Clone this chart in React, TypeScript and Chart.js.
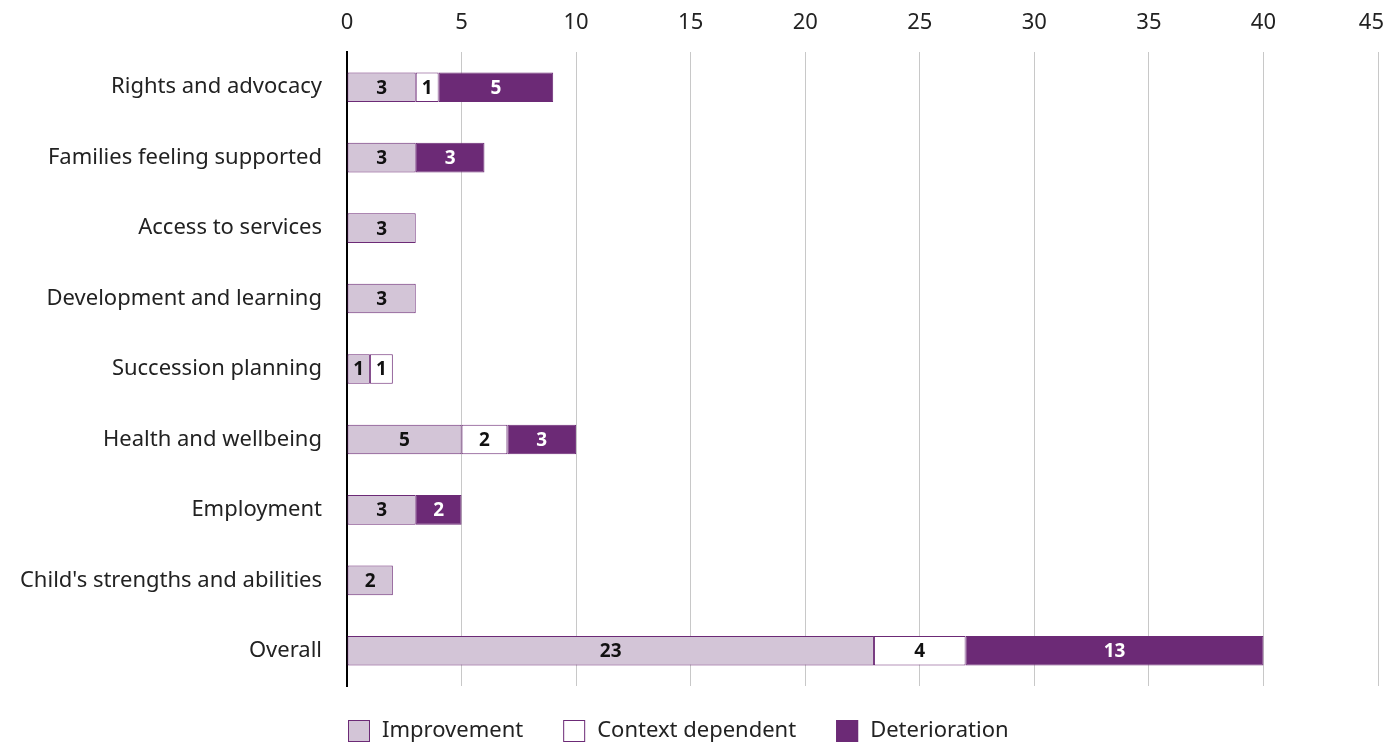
import React, { useEffect, useRef } from "react";
import { Chart, registerables } from "chart.js";

Chart.register(...registerables);

const categories = [
  "Rights and advocacy",
  "Families feeling supported",
  "Access to services",
  "Development and learning",
  "Succession planning",
  "Health and wellbeing",
  "Employment",
  "Child's strengths and abilities",
  "Overall",
];
const improvement = [3, 3, 3, 3, 1, 5, 3, 2, 23];
const contextDependent = [1, 0, 0, 0, 1, 2, 0, 0, 4];
const deterioration = [5, 3, 0, 0, 0, 3, 2, 0, 13];
const xTicks = [0, 5, 10, 15, 20, 25, 30, 35, 40, 45];
const X_MAX = 45;

const PURPLE = "#6c2a76";
const LIGHT = "#d3c5d7";
const FONT = "'Noto Sans', sans-serif";
const TEXT = "#222222";

const labelPlugin = {
  id: "barLabels",
  afterDatasetsDraw(chart: any) {
    const ctx = chart.ctx;
    ctx.save();
    ctx.font = `bold 19px ${FONT}`;
    ctx.textAlign = "center";
    ctx.textBaseline = "middle";
    chart.data.datasets.forEach((ds: any, di: number) => {
      const meta = chart.getDatasetMeta(di);
      meta.data.forEach((el: any, i: number) => {
        const v = ds.data[i];
        if (!v) return;
        ctx.fillStyle = di === 2 ? "#ffffff" : "#111111";
        ctx.fillText(String(v), (el.x + el.base) / 2, el.y + 1);
      });
    });
    ctx.restore();
  },
};

// Last tick label kept inside the canvas (right-aligned), as in the reference
const lastTickPlugin = {
  id: "lastTick",
  afterDraw(chart: any) {
    const ctx = chart.ctx;
    const sx = chart.scales.x;
    const px = sx.getPixelForValue(X_MAX);
    ctx.save();
    ctx.font = `22px ${FONT}`;
    ctx.fillStyle = TEXT;
    ctx.textAlign = "right";
    ctx.textBaseline = "middle";
    ctx.fillText(String(X_MAX), Math.min(px + 6, chart.width - 3), 22.5);
    ctx.restore();
  },
};

const legendPlugin = {
  id: "bottomLegend",
  afterDraw(chart: any) {
    const ctx = chart.ctx;
    const area = chart.chartArea;
    ctx.save();
    ctx.font = `22px ${FONT}`;
    ctx.textBaseline = "middle";
    ctx.textAlign = "left";
    let x = area.left + 1;
    const yc = area.bottom + 45;
    chart.data.datasets.forEach((ds: any) => {
      ctx.fillStyle = ds.backgroundColor;
      ctx.fillRect(x, yc - 11, 22, 22);
      ctx.strokeStyle = ds.borderColor;
      ctx.lineWidth = 1;
      ctx.strokeRect(x + 0.5, yc - 10.5, 21, 21);
      ctx.fillStyle = TEXT;
      ctx.fillText(ds.label, x + 34, yc);
      x += 34 + ctx.measureText(ds.label).width + 40;
    });
    ctx.restore();
  },
};

export default function App() {
  const ref = useRef<HTMLCanvasElement | null>(null);
  useEffect(() => {
    if (!ref.current) return;
    const nz = (a: number[]) => a.map((v) => (v ? v : null));
    const common = {
      borderColor: PURPLE,
      borderWidth: 1,
      borderSkipped: false,
      categoryPercentage: 1,
      barPercentage: 0.42,
    };
    const chart = new Chart(ref.current, {
      type: "bar",
      data: {
        labels: categories,
        datasets: [
          { label: "Improvement", data: nz(improvement), backgroundColor: LIGHT, ...common },
          { label: "Context dependent", data: nz(contextDependent), backgroundColor: "#ffffff", ...common },
          { label: "Deterioration", data: nz(deterioration), backgroundColor: PURPLE, ...common },
        ] as any,
      },
      options: {
        indexAxis: "y",
        animation: false,
        responsive: true,
        maintainAspectRatio: false,
        layout: { padding: { top: 8, right: 9, bottom: 59, left: 0 } },
        plugins: {
          tooltip: { enabled: false },
          legend: { display: false },
        },
        scales: {
          x: {
            position: "top",
            stacked: true,
            min: 0,
            max: X_MAX,
            afterBuildTicks: (s: any) => {
              s.ticks = xTicks.map((v) => ({ value: v }));
            },
            ticks: {
              font: { family: FONT, size: 22 },
              color: TEXT,
              padding: 16,
              maxRotation: 0,
              callback: (v: any) => (Number(v) === X_MAX ? "" : String(v)),
            },
            grid: { color: "#c8c8c8", drawTicks: false, lineWidth: 1 },
            border: { display: false },
            afterFit: (s: any) => {
              s.height = 44;
              s.paddingRight = 0;
              s.paddingLeft = 0;
            },
          },
          y: {
            stacked: true,
            ticks: {
              font: { family: FONT, size: 22 },
              color: TEXT,
              padding: 25,
            },
            grid: { display: false, drawTicks: false },
            border: { display: true, color: "#000", width: 2 },
            afterFit: (s: any) => {
              s.width = 347;
            },
          },
        },
      } as any,
      plugins: [labelPlugin, lastTickPlugin, legendPlugin],
    });
    return () => chart.destroy();
  }, []);
  return (
    <div style={{ position: "fixed", left: 0, top: 0, width: 1387, height: 745, background: "#fff" }}>
      <canvas ref={ref} />
    </div>
  );
}
